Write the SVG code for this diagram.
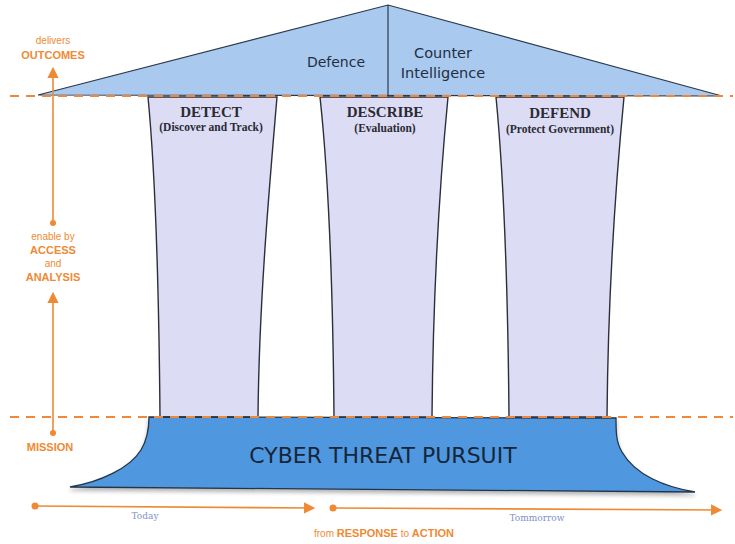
<svg xmlns="http://www.w3.org/2000/svg" width="735" height="544" viewBox="0 0 735 544">
<defs>
<style>
.or{fill:#ee8a34;font-family:"Liberation Sans",Arial,sans-serif;text-anchor:middle}
.orb{font-weight:bold}
.pil{fill:#dcdcf4;stroke:#2b2f3a;stroke-width:1.4}
.pt{font-family:"Liberation Serif","Times New Roman",serif;font-weight:bold;fill:#2a2a33;text-anchor:middle}
.dash{stroke:#f0873a;stroke-width:2.2;stroke-dasharray:9 7;fill:none}
.oline{stroke:#ee8a34;stroke-width:1.6;fill:none}
.roof{font-family:"DejaVu Sans",Verdana,sans-serif;fill:#1f2f44;text-anchor:middle}
.tl{font-family:"DejaVu Serif","Liberation Serif",serif;font-size:9px;fill:#7f90cc;text-anchor:middle}
</style>
<marker id="ah" viewBox="0 0 10 10" refX="8" refY="5" markerWidth="7" markerHeight="7" orient="auto">
<path d="M0,0 L10,5 L0,10 Z" fill="#ee8a34"/>
</marker>
<filter id="sh" x="-5%" y="-5%" width="110%" height="130%">
<feGaussianBlur in="SourceAlpha" stdDeviation="2"/>
<feOffset dx="0" dy="3"/>
<feComponentTransfer><feFuncA type="linear" slope="0.3"/></feComponentTransfer>
<feMerge><feMergeNode/><feMergeNode in="SourceGraphic"/></feMerge>
</filter>
</defs>
<rect width="735" height="544" fill="#ffffff"/>

<g id="pillar-detect">
<path class="pil" d="M148,97 L277,97 C270,180 259,300 258,417 L160,417 C159,300 156,180 148,97 Z"/>
<text class="pt" x="211" y="117" font-size="15">DETECT</text>
<text class="pt" x="211" y="131" font-size="11.5">(Discover and Track)</text>
</g>
<g id="pillar-describe">
<path class="pil" d="M320,97 L448,97 C440,180 433,300 432,417 L334,417 C333,300 329,180 320,97 Z"/>
<text class="pt" x="385" y="117" font-size="15">DESCRIBE</text>
<text class="pt" x="385" y="132" font-size="11.5">(Evaluation)</text>
</g>
<g id="pillar-defend">
<path class="pil" d="M496,97 L624,97 C616,180 608,300 607,417 L509,417 C508,300 504,180 496,97 Z"/>
<text class="pt" x="560" y="118" font-size="15">DEFEND</text>
<text class="pt" x="560" y="133" font-size="11.5">(Protect Government)</text>
</g>

<g id="roof">
<path d="M38,95 L388,5 L722,96 Z" fill="#a9c9ef" stroke="#2b3a4c" stroke-width="1.2"/>
<line x1="388" y1="5" x2="388" y2="95" stroke="#2b3a4c" stroke-width="1.2"/>
<text class="roof" x="336" y="67" font-size="14">Defence</text>
<text class="roof" x="443" y="58" font-size="14.5">Counter</text>
<text class="roof" x="443" y="78" font-size="14.5">Intelligence</text>
</g>

<g id="base">
<path d="M149,417 L616,418 C616,432 616,442 622,452 C635,475 665,487 695,492 L70,487 C100,482 130,468 141,450 C147,440 149,430 149,417 Z" fill="#4f98df" stroke="#24344a" stroke-width="1.3" filter="url(#sh)"/>
<text x="383" y="463" font-family="'DejaVu Sans',Verdana,sans-serif" font-size="22" fill="#16263a" text-anchor="middle">CYBER THREAT PURSUIT</text>
</g>

<g id="connectors">
<line class="dash" x1="10" y1="96" x2="733" y2="96"/>
<line class="dash" x1="10" y1="417" x2="733" y2="417"/>
<line class="oline" x1="53" y1="223" x2="53" y2="69" marker-end="url(#ah)"/>
<circle cx="53" cy="223" r="3" fill="#ee8a34"/>
<line class="oline" x1="53" y1="433" x2="53" y2="294" marker-end="url(#ah)"/>
<circle cx="53" cy="433" r="3" fill="#ee8a34"/>
<line class="oline" x1="35" y1="506" x2="313" y2="508" marker-end="url(#ah)"/>
<circle cx="35" cy="506" r="3.5" fill="#ee8a34"/>
<line class="oline" x1="333" y1="508" x2="720" y2="510" marker-end="url(#ah)"/>
<circle cx="333" cy="508" r="3.5" fill="#ee8a34"/>
</g>

<g id="labels">
<text class="or" x="53" y="44" font-size="10">delivers</text>
<text class="or orb" x="53" y="59" font-size="11">OUTCOMES</text>
<text class="or" x="53" y="240" font-size="10">enable by</text>
<text class="or orb" x="53" y="254" font-size="11">ACCESS</text>
<text class="or" x="53" y="267" font-size="10">and</text>
<text class="or orb" x="53" y="281" font-size="11">ANALYSIS</text>
<text class="or orb" x="50" y="451" font-size="11">MISSION</text>
<text class="tl" x="145" y="519">Today</text>
<text class="tl" x="537" y="521">Tommorrow</text>
<text class="or" x="384" y="537" font-size="10">from <tspan class="orb" font-size="11">RESPONSE</tspan> to <tspan class="orb" font-size="11">ACTION</tspan></text>
</g>
</svg>
